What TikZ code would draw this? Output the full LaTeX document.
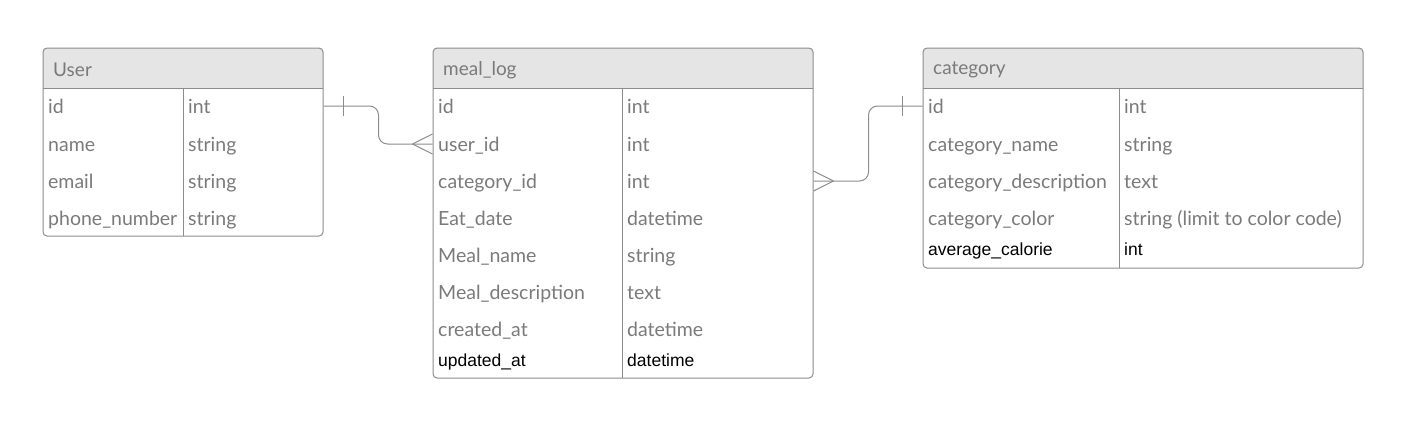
\documentclass[tikz,border=0pt]{standalone}
\usepackage{fontspec}
\setmainfont{Lato}
\newfontfamily\arialfont{Liberation Sans}
\usetikzlibrary{positioning}
\definecolor{erline}{HTML}{8C8C8C}
\definecolor{erhead}{HTML}{E5E5E5}
\definecolor{ertext}{HTML}{7A7A7A}
\tikzset{
tablebox/.style={
	rectangle,
	rounded corners=4pt,
	draw=erline,
	line width=1pt,
	inner sep=0pt
},
headfill/.style={
	fill=erhead
},
headtext/.style={
	anchor=west,
	text=ertext,
	font=\fontsize{19}{20}\selectfont,
	inner sep=0pt
},
field/.style={
	anchor=west,
	text=ertext,
	font=\fontsize{19.5}{20}\selectfont,
	text height=14pt,
	text depth=0pt,
	inner sep=0pt
},
blackfield/.style={
	anchor=west,
	text=black,
	font=\arialfont\fontsize{17.5}{20}\selectfont,
	text height=14pt,
	text depth=0pt,
	inner sep=0pt
},
divline/.style={
	draw=erline,
	line width=1pt
},
rel/.style={
	draw=erline,
	line width=1pt,
	rounded corners=9pt
}
}
\begin{document}
\begin{tikzpicture}[x=1pt, y=-1pt]
\useasboundingbox (0,0) rectangle (1408,424);

\path[headfill] (43,88) [rounded corners=4pt] -- (43,48) -- (323,48) [sharp corners] -- (323,88) -- cycle;
\path[headfill] (433,88) [rounded corners=4pt] -- (433,48) -- (813,48) [sharp corners] -- (813,88) -- cycle;
\path[headfill] (923,88) [rounded corners=4pt] -- (923,48) -- (1363,48) [sharp corners] -- (1363,88) -- cycle;

\node (user) [tablebox, minimum width=280pt, minimum height=188pt] at (183,142) {};
\node (ml)   [tablebox, minimum width=380pt, minimum height=330pt] at (623,213) {};
\node (cat)  [tablebox, minimum width=440pt, minimum height=220pt] at (1143,158) {};

\draw[divline] (43,88) -- (323,88);
\draw[divline] (183,88) -- (183,236);
\draw[divline] (433,88) -- (813,88);
\draw[divline] (622,88) -- (622,378);
\draw[divline] (923,88) -- (1363,88);
\draw[divline] (1119,88) -- (1119,268);

\node (userhead) [headtext] at (53,70) {User};
\node (mlhead)   [headtext] at (443,70) {meal\_log};
\node (cathead)  [headtext] at (933,70) {category};

\node (uid)     [field] at (48,106) {id};
\node (uidT)    [field] at (188,106) {int};
\node (uname)   [field] at (48,144) {name};
\node (unameT)  [field] at (188,144) {string};
\node (umail)   [field] at (48,181) {email};
\node (umailT)  [field] at (188,181) {string};
\node (uphone)  [field] at (48,218) {phone\_number};
\node (uphoneT) [field] at (188,218) {string};

\node (mid)      [field] at (438,106) {id};
\node (midT)     [field] at (627,106) {int};
\node (muser)    [field] at (438,144) {user\_id};
\node (muserT)   [field] at (627,144) {int};
\node (mcat)     [field] at (438,181) {category\_id};
\node (mcatT)    [field] at (627,181) {int};
\node (mdate)    [field] at (438,218) {Eat\_date};
\node (mdateT)   [field] at (627,218) {datetime};
\node (mname)    [field] at (438,255) {Meal\_name};
\node (mnameT)   [field] at (627,255) {string};
\node (mdesc)    [field] at (438,292) {Meal\_description};
\node (mdescT)   [field] at (627,292) {text};
\node (mcreate)  [field] at (438,329) {created\_at};
\node (mcreateT) [field] at (627,329) {datetime};
\node (mupdate)  [blackfield] at (438,359) {updated\_at};
\node (mupdateT) [blackfield] at (627,359) {datetime};

\node (cid)     [field] at (928,106) {id};
\node (cidT)    [field] at (1124,106) {int};
\node (cname)   [field] at (928,144) {category\_name};
\node (cnameT)  [field] at (1124,144) {string};
\node (cdesc)   [field] at (928,181) {category\_description};
\node (cdescT)  [field] at (1124,181) {text};
\node (ccolor)  [field] at (928,218) {category\_color};
\node (ccolorT) [field] at (1124,218) {string (limit to color code)};
\node (ccal)    [blackfield] at (928,248) {average\_calorie};
\node (ccalT)   [blackfield] at (1124,248) {int};

\draw[rel] (user.east |- uid.west) -- ++(55,0) |- (ml.west |- muser.west);
\draw[rel] ([xshift=20pt]user.east |- uid.west) ++(0,-10) -- ++(0,20);
\draw[rel] ([xshift=-20pt]ml.west |- muser.west) -- ([yshift=10pt]ml.west |- muser.west);
\draw[rel] ([xshift=-20pt]ml.west |- muser.west) -- ([yshift=-10pt]ml.west |- muser.west);

\draw[rel] (ml.east |- mcat.west) -- ++(55,0) |- (cat.west |- cid.west);
\draw[rel] ([xshift=-20pt]cat.west |- cid.west) ++(0,-10) -- ++(0,20);
\draw[rel] ([xshift=20pt]ml.east |- mcat.west) -- ([yshift=10pt]ml.east |- mcat.west);
\draw[rel] ([xshift=20pt]ml.east |- mcat.west) -- ([yshift=-10pt]ml.east |- mcat.west);

\end{tikzpicture}
\end{document}
